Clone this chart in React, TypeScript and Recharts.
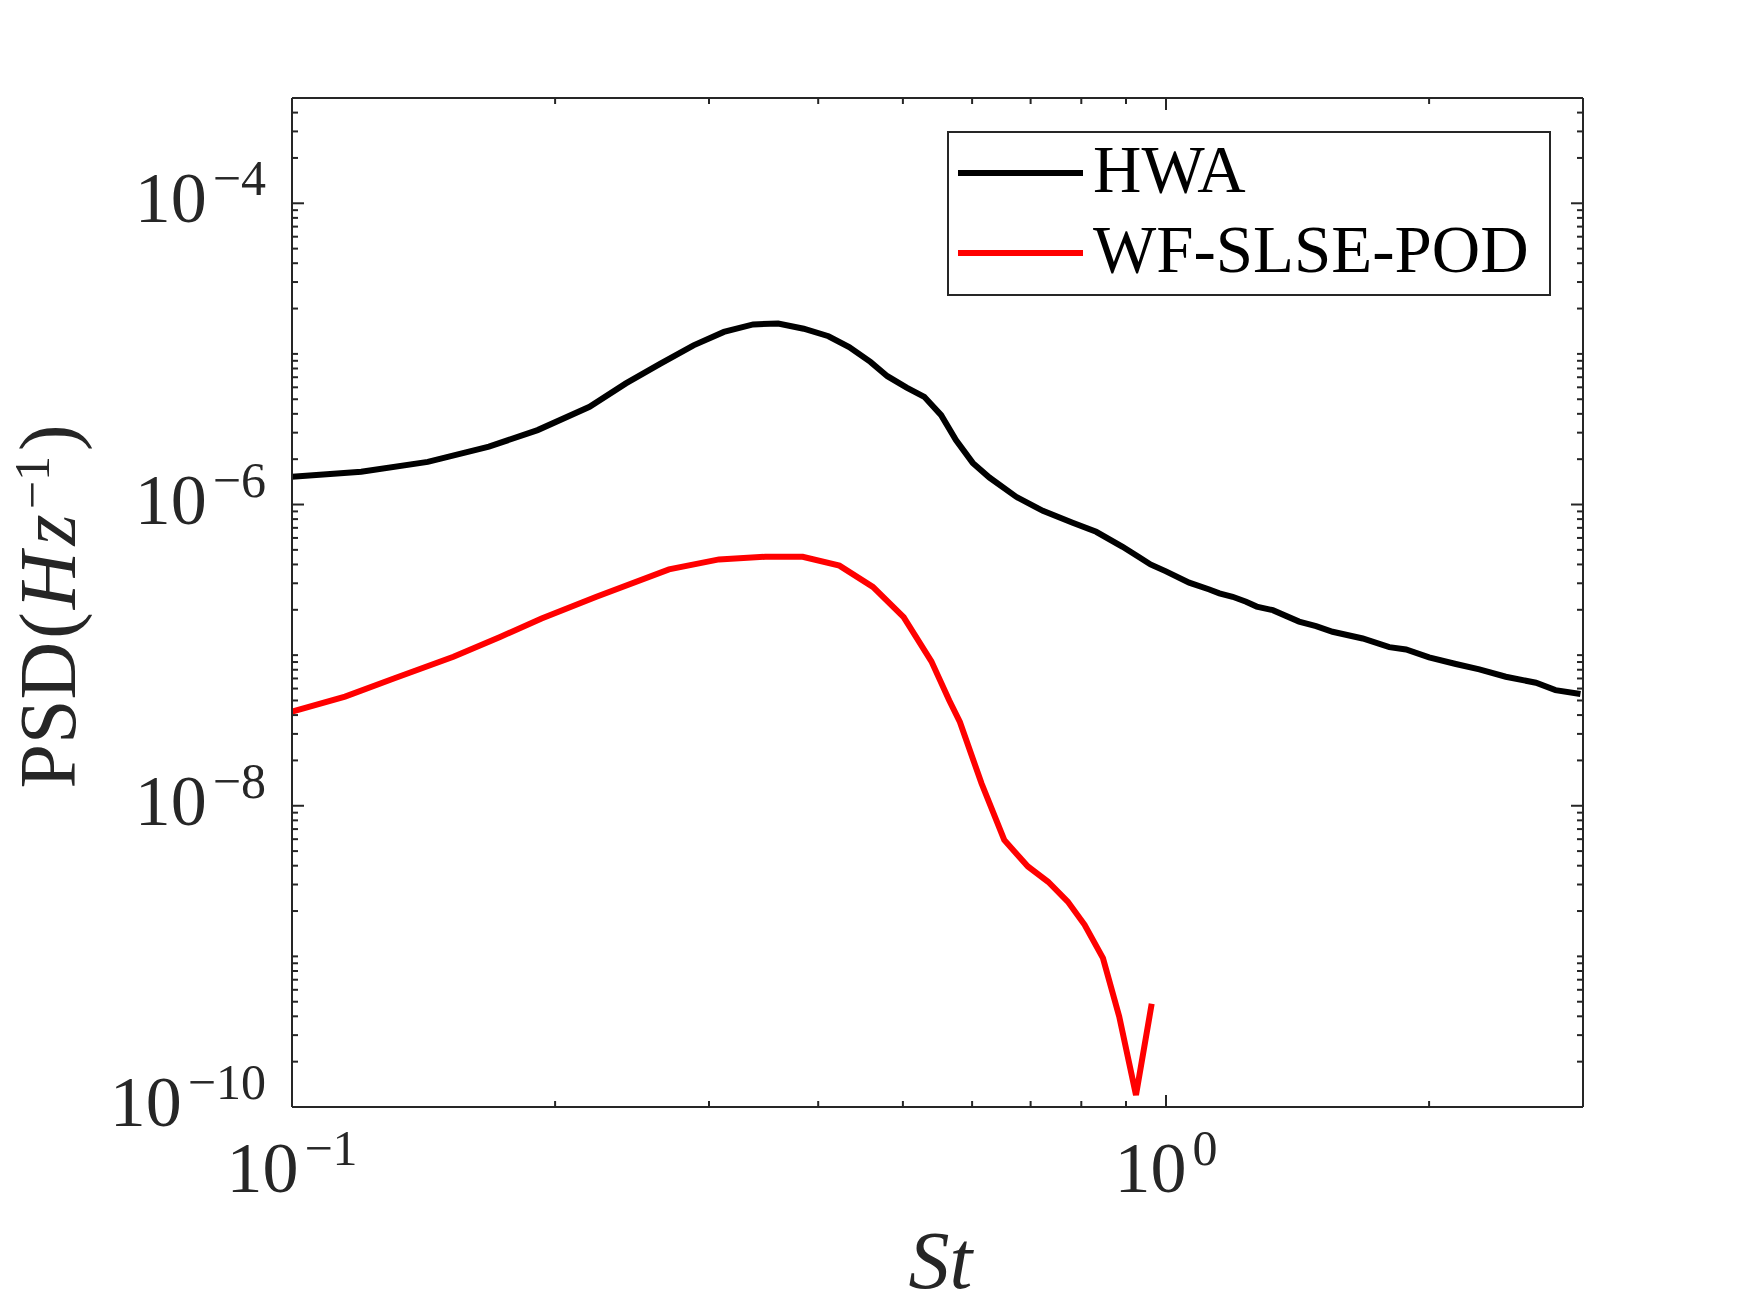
import React from 'react';
import { LineChart, Line, XAxis, YAxis, Legend } from 'recharts';

// values (St, PSD)
const hwaSt = [
  0.1, 0.12, 0.143, 0.168, 0.191, 0.219, 0.241, 0.264, 0.288, 0.312, 0.337, 0.36,
  0.385, 0.411, 0.434, 0.459, 0.48, 0.505, 0.529, 0.553, 0.575, 0.601, 0.628, 0.674,
  0.723, 0.782, 0.832, 0.892, 0.93, 0.96, 1.0, 1.063, 1.121, 1.151, 1.192, 1.235,
  1.27, 1.325, 1.42, 1.485, 1.551, 1.679, 1.801, 1.882, 2.0, 2.146, 2.283, 2.448,
  2.65, 2.79, 2.98,
];
const hwaPsd = [
  1.53e-6, 1.65e-6, 1.92e-6, 2.42e-6, 3.12e-6, 4.45e-6, 6.37e-6, 8.63e-6, 1.14e-5, 1.4e-5, 1.57e-5, 1.59e-5,
  1.47e-5, 1.31e-5, 1.11e-5, 8.85e-6, 7.11e-6, 5.98e-6, 5.19e-6, 3.92e-6, 2.68e-6, 1.89e-6, 1.51e-6, 1.125e-6,
  9.08e-7, 7.56e-7, 6.59e-7, 5.24e-7, 4.5e-7, 4.0e-7, 3.6e-7, 3.03e-7, 2.73e-7, 2.57e-7, 2.44e-7, 2.26e-7,
  2.1e-7, 1.99e-7, 1.67e-7, 1.56e-7, 1.43e-7, 1.29e-7, 1.13e-7, 1.09e-7, 9.66e-8, 8.73e-8, 8.05e-8, 7.19e-8,
  6.56e-8, 5.86e-8, 5.52e-8,
];

const podSt = [
  0.1, 0.115, 0.131, 0.153, 0.173, 0.193, 0.223, 0.27, 0.308, 0.348, 0.384, 0.423,
  0.462, 0.501, 0.539, 0.565, 0.581, 0.615, 0.653, 0.695, 0.733, 0.772, 0.807, 0.847,
  0.884, 0.924, 0.963,
];
const podPsd = [
  4.21e-8, 5.3e-8, 7.02e-8, 9.75e-8, 1.32e-7, 1.75e-7, 2.44e-7, 3.71e-7, 4.32e-7, 4.5e-7, 4.5e-7, 3.93e-7,
  2.84e-7, 1.79e-7, 9.1e-8, 5.0e-8, 3.6e-8, 1.41e-8, 5.93e-9, 3.95e-9, 3.13e-9, 2.31e-9, 1.62e-9, 9.73e-10,
  3.99e-10, 1.2e-10, 4.84e-10,
];

// axes
const xDomain = [0.1, 3];
const yDomain = [1e-10, 5e-4];
const xLabelled = [0.1, 1];
const xTicks = [0.1, 0.2, 0.3, 0.4, 0.5, 0.6, 0.7, 0.8, 0.9, 1, 2, 3];
const yLabelled = [1e-10, 1e-8, 1e-6, 1e-4];
const yDecades = [1e-10, 1e-9, 1e-8, 1e-7, 1e-6, 1e-5];
const yMultipliers = [1, 2, 3, 4, 5, 6, 7, 8, 9];
const yTopTicks = [1e-4, 2e-4, 3e-4, 4e-4, 5e-4];
const yTicks = [...yDecades.flatMap((d) => yMultipliers.map((m) => m * d)), ...yTopTicks];

const hwaData = hwaSt.map((st, i) => ({ st, psd: hwaPsd[i] }));
const podData = podSt.map((st, i) => ({ st, psd: podPsd[i] }));

const FONT = '"Liberation Serif", "DejaVu Serif", serif';
const AXIS = '#262626';
const MAJOR = 12;
const MINOR = 6;
const LINE_W = 6;

const isLabelled = (v: number, list: number[]) =>
  list.some((t) => Math.abs(Math.log10(v) - Math.log10(t)) < 1e-6);

const expText = (v: number) => {
  const e = Math.round(Math.log10(v));
  return e < 0 ? '\u2212' + Math.abs(e) : String(e);
};

const PowLabel = ({ x, y, value, anchor }: any) => (
  <text x={x} y={y} textAnchor={anchor} fontFamily={FONT} fill={AXIS} fontSize={72}>
    <tspan>10</tspan>
    <tspan dx={6} dy={-27} fontSize={50}>{expText(value)}</tspan>
  </text>
);

const LeftTick = (props: any) => {
  const { x, y, payload } = props;
  const big = isLabelled(payload.value, yLabelled);
  return (
    <g>
      <line x1={x} y1={y} x2={x + (big ? MAJOR : MINOR)} y2={y} stroke={AXIS} strokeWidth={2} />
      {big && <PowLabel x={x - 26} y={y + 19} value={payload.value} anchor="end" />}
    </g>
  );
};

const RightTick = (props: any) => {
  const { x, y, payload } = props;
  const big = isLabelled(payload.value, yLabelled);
  return <line x1={x} y1={y} x2={x - (big ? MAJOR : MINOR)} y2={y} stroke={AXIS} strokeWidth={2} />;
};

const BottomTick = (props: any) => {
  const { x, y, payload } = props;
  const big = isLabelled(payload.value, xLabelled);
  return (
    <g>
      <line x1={x} y1={y} x2={x} y2={y - (big ? MAJOR : MINOR)} stroke={AXIS} strokeWidth={2} />
      {big && <PowLabel x={x} y={y + 85} value={payload.value} anchor="middle" />}
    </g>
  );
};

const TopTick = (props: any) => {
  const { x, y, payload } = props;
  const big = isLabelled(payload.value, xLabelled);
  return <line x1={x} y1={y} x2={x} y2={y + (big ? MAJOR : MINOR)} stroke={AXIS} strokeWidth={2} />;
};

const XTitle = (props: any) => {
  const vb = props.viewBox || { x: 292, y: 1107, width: 1291, height: 206 };
  return (
    <text x={vb.x + vb.width / 2 + 3} y={vb.y + 181} textAnchor="middle" fontFamily={FONT} fontSize={82} fontStyle="italic" fill={AXIS}>
      St
    </text>
  );
};

const YTitle = (props: any) => {
  const vb = props.viewBox || { x: 0, y: 98, width: 292, height: 1009 };
  const cx = vb.x + 75;
  const cy = vb.y + vb.height / 2 + 4;
  return (
    <text x={cx} y={cy} transform={`rotate(-90, ${cx}, ${cy})`} textAnchor="middle" fontFamily={FONT} fontSize={80} fill={AXIS}>
      <tspan>PSD</tspan>
      <tspan dx={3}>(</tspan>
      <tspan dx={3} fontStyle="italic">H</tspan>
      <tspan dx={6} fontStyle="italic">z</tspan>
      <tspan dx={5} dy={-26} fontSize={50}>{'\u22121'}</tspan>
      <tspan dx={5} dy={26}>)</tspan>
    </text>
  );
};

const LegendBox = (props: any) => {
  const items = props.payload || [];
  return (
    <div
      style={{
        boxSizing: 'border-box',
        width: 604,
        height: 165,
        border: `2px solid ${AXIS}`,
        background: '#fff',
      }}
    >
      {items.map((entry: any) => (
        <div key={entry.value} style={{ display: 'flex', alignItems: 'center', height: 80 }}>
          <svg width={136} height={10} style={{ display: 'block' }}>
            <line x1={9} x2={134} y1={5} y2={5} stroke={entry.color} strokeWidth={LINE_W} />
          </svg>
          <span
            style={{
              marginLeft: 8,
              fontFamily: FONT,
              fontSize: 67,
              lineHeight: 1,
              color: '#000',
              position: 'relative',
              top: -4,
              whiteSpace: 'nowrap',
            }}
          >
            {entry.value}
          </span>
        </div>
      ))}
    </div>
  );
};

const axisLine = { stroke: AXIS, strokeWidth: 2 };

export default function App() {
  return (
    <div style={{ position: 'absolute', left: 0, top: 0, width: 1750, height: 1313, background: '#fff' }}>
      <LineChart width={1750} height={1313} margin={{ top: 0, right: 0, bottom: 0, left: 0 }}>
        <XAxis
          xAxisId="bottom"
          dataKey="st"
          type="number"
          scale="log"
          domain={xDomain}
          allowDataOverflow
          ticks={xTicks}
          interval={0}
          tickSize={0}
          tickMargin={0}
          tickLine={false}
          height={206}
          axisLine={axisLine}
          tick={BottomTick}
          label={<XTitle />}
        />
        <XAxis
          xAxisId="top"
          orientation="top"
          dataKey="st"
          type="number"
          scale="log"
          domain={xDomain}
          allowDataOverflow
          ticks={xTicks}
          interval={0}
          tickSize={0}
          tickMargin={0}
          tickLine={false}
          height={98}
          axisLine={axisLine}
          tick={TopTick}
        />
        <YAxis
          yAxisId="left"
          type="number"
          scale="log"
          domain={yDomain}
          allowDataOverflow
          ticks={yTicks}
          interval={0}
          tickSize={0}
          tickMargin={0}
          tickLine={false}
          width={292}
          axisLine={axisLine}
          tick={LeftTick}
          label={<YTitle />}
        />
        <YAxis
          yAxisId="right"
          orientation="right"
          type="number"
          scale="log"
          domain={yDomain}
          allowDataOverflow
          ticks={yTicks}
          interval={0}
          tickSize={0}
          tickMargin={0}
          tickLine={false}
          width={167}
          axisLine={axisLine}
          tick={RightTick}
        />
        <Line
          xAxisId="bottom"
          yAxisId="left"
          data={hwaData}
          dataKey="psd"
          name="HWA"
          type="linear"
          stroke="#000000"
          strokeWidth={LINE_W}
          dot={false}
          isAnimationActive={false}
        />
        <Line
          xAxisId="bottom"
          yAxisId="left"
          data={podData}
          dataKey="psd"
          name="WF-SLSE-POD"
          type="linear"
          stroke="#ff0000"
          strokeWidth={LINE_W}
          dot={false}
          isAnimationActive={false}
        />
        <Legend
          layout="vertical"
          align="center"
          verticalAlign="middle"
          content={<LegendBox />}
          wrapperStyle={{ position: 'absolute', left: 947, top: 131, width: 604, height: 165 }}
        />
      </LineChart>
    </div>
  );
}
